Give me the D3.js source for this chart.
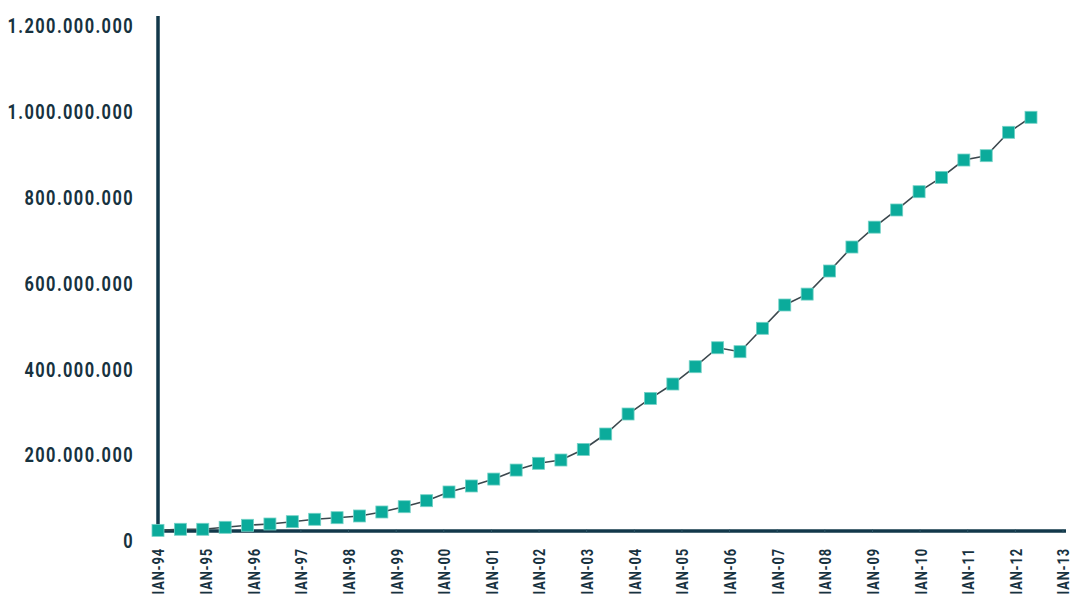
<!DOCTYPE html>
<html>
<head>
<meta charset="utf-8">
<script src="https://cdnjs.cloudflare.com/ajax/libs/d3/7.8.5/d3.min.js"></script>
<style>
  html, body { margin: 0; padding: 0; background: #ffffff; }
  svg { display: block; }
  .lbl { font-family: Roboto, "Liberation Sans", sans-serif; font-weight: 700; fill: #17323f; }
</style>
</head>
<body>
<svg id="chart" width="1075" height="598"></svg>
<script>
// ---- data ----
const periods = [
  "Jan-94","Jul-94","Jan-95","Jul-95","Jan-96","Jul-96","Jan-97","Jul-97","Jan-98","Jul-98",
  "Jan-99","Jul-99","Jan-00","Jul-00","Jan-01","Jul-01","Jan-02","Jul-02","Jan-03","Jul-03",
  "Jan-04","Jul-04","Jan-05","Jul-05","Jan-06","Jul-06","Jan-07","Jul-07","Jan-08","Jul-08",
  "Jan-09","Jul-09","Jan-10","Jul-10","Jan-11","Jul-11","Jan-12","Jul-12","Jan-13","Jul-13"
];
const hosts = [
  1500000, 4000000, 4000000, 8600000, 13300000, 16300000, 21700000, 27300000, 31000000, 35000000,
  44300000, 56600000, 70600000, 90900000, 104900000, 121000000, 142000000, 157700000, 165400000, 190000000,
  226000000, 272600000, 309000000, 342500000, 382800000, 427000000, 417800000, 472300000, 526600000, 552000000,
  605800000, 661700000, 708000000, 748000000, 790600000, 824000000, 864400000, 874500000, 929000000, 964000000
];
const xTickLabels = [
  "IAN-94","IAN-95","IAN-96","IAN-97","IAN-98","IAN-99","IAN-00","IAN-01","IAN-02","IAN-03",
  "IAN-04","IAN-05","IAN-06","IAN-07","IAN-08","IAN-09","IAN-10","IAN-11","IAN-12","IAN-13"
];
const yTickValues = [0, 200000000, 400000000, 600000000, 800000000, 1000000000, 1200000000];

// ---- layout ----
const svg = d3.select("#chart");
const x0 = 158, yTop = 16, yBase = 531;
const squeeze = 0.78;

const x = d3.scalePoint().domain(periods).range([x0, 1031]);
const xLab = d3.scalePoint().domain(xTickLabels).range([x0, 1063]);
const y = d3.scaleLinear().domain([0, 1200000000]).range([yBase, yTop]);

const loc = d3.formatLocale({decimal: ",", thousands: ".", grouping: [3], currency: ["", ""]});
const fmt = loc.format(",d");

// y labels
const yAxis = d3.axisLeft(y).tickValues(yTickValues).tickFormat(fmt).tickSize(0).tickPadding(0);
const gy = svg.append("g").attr("transform", `translate(134,0)`).call(yAxis);
gy.select(".domain").remove();
gy.selectAll("text")
  .attr("class", "lbl")
  .attr("x", 0)
  .attr("dy", "0.8em")
  .attr("text-anchor", "end")
  .attr("transform", `scale(${squeeze},1)`)
  .style("font-size", "21px")
  .style("letter-spacing", "1.8px")
  .attr("fill", "#17323f");

// x labels (rotated)
const xAxis = d3.axisBottom(xLab).tickSize(0).tickPadding(0);
const gx = svg.append("g").attr("transform", `translate(0,${yBase})`).call(xAxis);
gx.select(".domain").remove();
gx.selectAll("text")
  .attr("class", "lbl")
  .attr("transform", `rotate(-90) scale(${squeeze},1)`)
  .attr("x", -17 / squeeze)
  .attr("y", 0)
  .attr("dy", "0.36em")
  .attr("text-anchor", "end")
  .style("font-size", "16.5px")
  .style("letter-spacing", "1.1px")
  .attr("fill", "#17323f");

// axis lines
svg.append("line")
  .attr("x1", x0).attr("x2", 1066)
  .attr("y1", y(0)).attr("y2", y(0))
  .attr("stroke", "#12384a").attr("stroke-width", 3.5);
svg.append("line")
  .attr("x1", x0).attr("x2", x0)
  .attr("y1", y(1200000000)).attr("y2", y(0) + 1.5)
  .attr("stroke", "#12384a").attr("stroke-width", 3.5);

// small tick notches on x axis
svg.append("g").selectAll("line").data(xTickLabels).join("line")
  .attr("x1", d => xLab(d)).attr("x2", d => xLab(d))
  .attr("y1", y(0) - 1.5).attr("y2", y(0) + 1.5)
  .attr("stroke", "#2d5566").attr("stroke-width", 1);

// data line
const line = d3.line().x((d, i) => x(periods[i])).y(d => y(d));
svg.append("path")
  .datum(hosts)
  .attr("d", line)
  .attr("fill", "none")
  .attr("stroke", "#3b474d")
  .attr("stroke-width", 1.6);

// markers
const s = 12;
svg.append("g").selectAll("rect").data(hosts).join("rect")
  .attr("x", (d, i) => x(periods[i]) - s / 2)
  .attr("y", d => y(d) - s / 2)
  .attr("width", s).attr("height", s)
  .attr("fill", "#0bab9b")
  .attr("stroke", "#74d2c7")
  .attr("stroke-width", 0.8);
</script>
</body>
</html>
